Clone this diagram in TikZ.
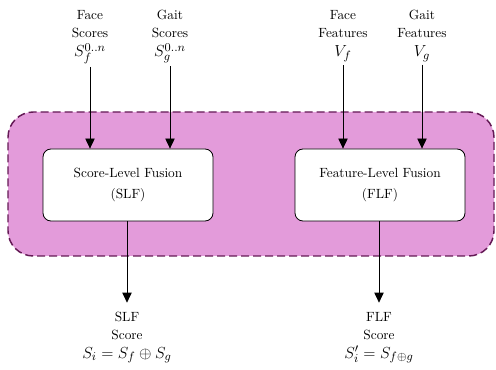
\documentclass[tikz,border=0pt]{standalone}
\usetikzlibrary{arrows.meta}
\definecolor{regfill}{RGB}{227,155,218}
\definecolor{regdraw}{RGB}{100,25,85}
\tikzset{
  region/.style={draw=regdraw, fill=regfill, dashed, dash pattern=on 6pt off 3pt, line width=1.1pt, rounded corners=19pt, minimum width=364.5pt, minimum height=108pt, inner sep=0pt},
  fusebox/.style={draw=black, fill=white, rounded corners=6pt, line width=0.6pt, minimum width=127.5pt, minimum height=54pt, align=center, font=\normalsize, inner sep=0pt},
  lbl/.style={align=center, font=\normalsize, inner sep=0pt},
  mlbl/.style={font=\fontsize{12.5}{14}\selectfont, inner sep=2pt, anchor=base},
  arr/.style={draw=black, line width=0.6pt, -{Triangle[width=7pt,length=7.5pt]}},
}
\begin{document}
\begin{tikzpicture}[x=0.75pt, y=-0.75pt]
\useasboundingbox (0,0) rectangle (496,370);
\node[region] (grp) at (251,184) {};
\node[fusebox] (slf) at (128,185) {Score-Level Fusion\\[4pt](SLF)};
\node[fusebox] (flf) at (380,185) {Feature-Level Fusion\\[4pt](FLF)};
% inputs
\node[lbl, anchor=south] (fst) at (90,38) {Face\\[1.5pt]Scores};
\node[mlbl] (fsm) at (90,57) {$S_f^{0..n}$};
\node[lbl, anchor=south] (gst) at (170,38) {Gait\\[1.5pt]Scores};
\node[mlbl] (gsm) at (170,57) {$S_g^{0..n}$};
\node[lbl, anchor=south] (fft) at (343,38) {Face\\[1.5pt]Features};
\node[mlbl] (ffm) at (343,57) {$V_f$};
\node[lbl, anchor=south] (gft) at (422,38) {Gait\\[1.5pt]Features};
\node[mlbl] (gfm) at (422,57) {$V_g$};
% outputs
\node[lbl, anchor=north] (sot) at (127,312) {SLF\\[1.5pt]Score};
\node[mlbl] (som) at (127,358) {$S_i = S_f \oplus S_g$};
\node[lbl, anchor=north] (fot) at (379,312) {FLF\\[1.5pt]Score};
\node[mlbl] (fom) at (379,358) {$S'_i = S_{f\oplus g}$};
% connectors
\draw[arr] (fsm.south) -- (fsm.south |- slf.north);
\draw[arr] (gsm.south) -- (gsm.south |- slf.north);
\draw[arr] (ffm.south) -- (ffm.south |- flf.north);
\draw[arr] (gfm.south) -- (gfm.south |- flf.north);
\draw[arr, shorten >=7pt] (slf.south -| sot.north) -- (sot.north);
\draw[arr, shorten >=7pt] (flf.south -| fot.north) -- (fot.north);
\end{tikzpicture}
\end{document}
